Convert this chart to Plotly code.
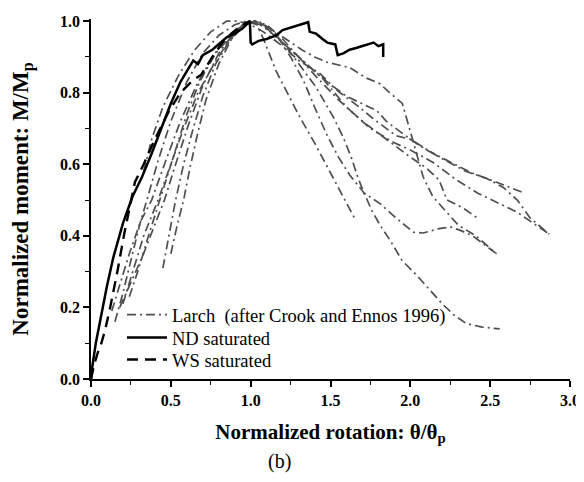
import plotly.graph_objects as go

# ---- data ----
nd_x = [0, 0.01, 0.03, 0.06, 0.1, 0.14, 0.2, 0.26, 0.32, 0.38, 0.45, 0.5, 0.56, 0.6, 0.64, 0.67, 0.7, 0.76, 0.8, 0.85,
        0.9, 0.95, 0.995, 1.0, 1.01, 1.05, 1.1, 1.16, 1.2, 1.26, 1.31, 1.36, 1.37, 1.41, 1.45, 1.48, 1.53, 1.545, 1.58,
        1.62, 1.66, 1.70, 1.74, 1.77, 1.80, 1.83, 1.83]
nd_y = [0, 0.04, 0.1, 0.17, 0.26, 0.34, 0.435, 0.51, 0.565, 0.63, 0.715, 0.77, 0.83, 0.86, 0.89, 0.88, 0.905, 0.92,
        0.935, 0.955, 0.965, 0.98, 1.0, 0.94, 0.935, 0.945, 0.95, 0.96, 0.975, 0.983, 0.99, 0.997, 0.97, 0.965, 0.95,
        0.94, 0.935, 0.905, 0.91, 0.92, 0.925, 0.93, 0.935, 0.94, 0.93, 0.935, 0.9]

ws_x = [0, 0.02, 0.04, 0.065, 0.09, 0.12, 0.165, 0.21, 0.275, 0.33, 0.4, 0.49, 0.56, 0.64, 0.69, 0.76, 0.84, 0.92,
        0.97, 1.0]
ws_y = [0, 0.04, 0.07, 0.1, 0.14, 0.2, 0.3, 0.41, 0.55, 0.6, 0.67, 0.75, 0.8, 0.835, 0.85, 0.9, 0.95, 0.98, 0.995, 1.0]

larch_x = [
    [0.33, 0.38, 0.45, 0.55, 0.65, 0.75, 0.85, 0.92, 1.0, 1.08, 1.2, 1.3, 1.43, 1.51, 1.60, 1.70, 1.79, 1.85, 1.91,
     2.0, 2.10, 2.23, 2.39, 2.54, 2.71],
    [0.15, 0.2, 0.26, 0.31, 0.35, 0.42, 0.5, 0.6, 0.7, 0.8, 0.9, 0.97, 1.04, 1.08, 1.16, 1.23, 1.31, 1.40, 1.47,
     1.53, 1.59, 1.65],
    [0.13, 0.18, 0.24, 0.31, 0.38, 0.46, 0.56, 0.66, 0.76, 0.86, 0.95, 1.05, 1.15, 1.25, 1.33, 1.40, 1.48, 1.55,
     1.62, 1.71, 1.81, 1.91, 2.02, 2.08, 2.18, 2.25, 2.31, 2.39, 2.45, 2.54],
    [0.2, 0.26, 0.33, 0.42, 0.5, 0.58, 0.67, 0.77, 0.87, 0.96, 1.03, 1.12, 1.22, 1.32, 1.41, 1.52, 1.58, 1.63, 1.67,
     1.71, 1.76, 1.81, 1.87, 1.95, 2.04, 2.14, 2.2, 2.27, 2.35, 2.45, 2.56],
    [0.24, 0.3, 0.36, 0.41, 0.46, 0.52, 0.6, 0.68, 0.78, 0.88, 0.96, 1.03, 1.12, 1.22, 1.32, 1.40, 1.48, 1.62, 1.73,
     1.81, 1.87, 1.95, 1.98, 2.02, 2.08, 2.14, 2.22, 2.30, 2.41, 2.54],
    [0.5, 0.54, 0.58, 0.62, 0.67, 0.72, 0.8, 0.88, 0.96, 1.03, 1.1, 1.2, 1.3, 1.4, 1.56, 1.68, 1.76, 1.85, 1.91, 2.0,
     2.06, 2.18, 2.35, 2.48, 2.58, 2.67, 2.75, 2.87],
    [0.45, 0.49, 0.53, 0.58, 0.64, 0.7, 0.78, 0.86, 0.94, 1.02, 1.1, 1.2, 1.3, 1.45, 1.6, 1.75, 1.9, 2.0, 2.14, 2.29,
     2.42, 2.54, 2.67, 2.77, 2.87],
    [0.18, 0.25, 0.32, 0.39, 0.46, 0.53, 0.61, 0.7, 0.8, 0.9, 0.98, 1.06, 1.15, 1.3, 1.4, 1.55, 1.7, 1.85, 2.0, 2.1,
     2.18, 2.23, 2.33, 2.42],
]
larch_y = [
    [0.58, 0.67, 0.76, 0.85, 0.92, 0.97, 1.0, 1.0, 0.99, 0.97, 0.93, 0.89, 0.855, 0.82, 0.79, 0.77, 0.75, 0.72, 0.70,
     0.67, 0.64, 0.61, 0.575, 0.55, 0.52],
    [0.16, 0.24, 0.35, 0.44, 0.5, 0.61, 0.72, 0.83, 0.91, 0.96, 0.99, 1.0, 0.99, 0.95, 0.86, 0.80, 0.73, 0.66, 0.60,
     0.55, 0.50, 0.45],
    [0.19, 0.26, 0.35, 0.44, 0.5, 0.6, 0.72, 0.82, 0.9, 0.96, 0.99, 1.0, 0.97, 0.9, 0.835, 0.76, 0.68, 0.62, 0.57,
     0.52, 0.49, 0.45, 0.41, 0.408, 0.42, 0.425, 0.416, 0.40, 0.38, 0.35],
    [0.21, 0.3, 0.4, 0.5, 0.6, 0.7, 0.8, 0.88, 0.95, 0.99, 1.0, 0.98, 0.93, 0.87, 0.815, 0.73, 0.675, 0.62, 0.565,
     0.52, 0.47, 0.43, 0.39, 0.33, 0.29, 0.24, 0.21, 0.18, 0.155, 0.145, 0.14],
    [0.23, 0.31, 0.4, 0.47, 0.54, 0.63, 0.74, 0.83, 0.91, 0.96, 0.99, 1.0, 0.98, 0.95, 0.92, 0.9, 0.885, 0.87, 0.84,
     0.825, 0.80, 0.77, 0.72, 0.66, 0.565, 0.51, 0.47, 0.43, 0.40, 0.35],
    [0.35, 0.43, 0.5, 0.59, 0.69, 0.78, 0.88, 0.95, 0.99, 1.0, 0.98, 0.94, 0.9, 0.86, 0.80, 0.76, 0.73, 0.70, 0.68,
     0.67, 0.654, 0.62, 0.58, 0.56, 0.536, 0.50, 0.45, 0.405],
    [0.31, 0.4, 0.5, 0.6, 0.7, 0.79, 0.88, 0.94, 0.98, 1.0, 0.99, 0.95, 0.9, 0.84, 0.76, 0.70, 0.66, 0.64, 0.606,
     0.556, 0.52, 0.494, 0.466, 0.435, 0.405],
    [0.2, 0.27, 0.34, 0.42, 0.5, 0.6, 0.71, 0.82, 0.91, 0.97, 1.0, 0.99, 0.96, 0.9, 0.85, 0.78, 0.72, 0.67, 0.62,
     0.59, 0.556, 0.50, 0.478, 0.45],
]

x_ticks = [0.0, 0.5, 1.0, 1.5, 2.0, 2.5, 3.0]
y_ticks = [0.0, 0.2, 0.4, 0.6, 0.8, 1.0]

FONT = "Liberation Serif"
GREY = "#4f4f4f"

fig = go.Figure()

for i, (lx, ly) in enumerate(zip(larch_x, larch_y)):
    fig.add_trace(go.Scatter(
        x=lx, y=ly, mode="lines",
        line=dict(color=GREY, width=1.7, dash="9px,4px,2px,4px"),
        name="Larch  (after Crook and Ennos 1996)",
        showlegend=(i == 0), legendgroup="larch", legend="legend",
    ))

fig.add_trace(go.Scatter(
    x=ws_x, y=ws_y, mode="lines",
    line=dict(color="black", width=2.4, dash="11px,7px"),
    name="WS saturated", legend="legend3",
))
fig.add_trace(go.Scatter(
    x=nd_x, y=nd_y, mode="lines",
    line=dict(color="black", width=2.5),
    name="ND saturated", legend="legend2",
))

# the page body has an 8px default margin; figure coordinates = page coordinates - 8
OFF = 8
W, H = 584 - OFF, 482 - OFF
ML, MR, MT, MB = 91 - OFF, 14, 19 - OFF, 103
pw, ph = W - ML - MR, H - MT - MB


def px_x(p):
    return (p - OFF - ML) / pw


def px_y(p):
    return (H - MB - (p - OFF)) / ph


def leg(row_center):
    return dict(
        x=px_x(122), y=px_y(row_center - 20), xanchor="left", yanchor="top",
        bgcolor="rgba(0,0,0,0)", font=dict(size=18.5, family=FONT, color="black"),
        tracegroupgap=0, itemwidth=40,
    )


fig.update_layout(
    width=W, height=H,
    margin=dict(l=ML, r=MR, t=MT, b=MB, autoexpand=False),
    paper_bgcolor="white", plot_bgcolor="white",
    font=dict(family=FONT, color="black"),
    showlegend=True,
    legend=leg(316),
    legend2=leg(339),
    legend3=leg(361),
    xaxis=dict(
        range=[0, 3.0], showgrid=False, zeroline=False, automargin=False,
        showline=True, linecolor="black", linewidth=1.5,
        ticks="outside", ticklen=6, tickwidth=1.5, tickcolor="black",
        tickvals=x_ticks, ticktext=[f"{v:.1f}" for v in x_ticks],
        tickfont=dict(size=16, family=FONT, weight="bold"),
        minor=dict(ticks="outside", ticklen=4, tickwidth=1.2, tickcolor="black", dtick=0.25, tick0=0),
        title=dict(text="<b>Normalized rotation: θ/θ<sub>p</sub></b>", font=dict(size=21, family=FONT), standoff=16),
    ),
    yaxis=dict(
        range=[0, 1.006], showgrid=False, zeroline=False, automargin=False,
        showline=True, linecolor="black", linewidth=1.5,
        ticks="outside", ticklen=6, tickwidth=1.5, tickcolor="black",
        tickvals=y_ticks, ticktext=[f"{v:.1f}" for v in y_ticks],
        tickfont=dict(size=16, family=FONT, weight="bold"),
        minor=dict(ticks="outside", ticklen=4, tickwidth=1.2, tickcolor="black", dtick=0.1, tick0=0),
        title=dict(text="<b>Normalized moment: M/M<sub>p</sub></b>", font=dict(size=23, family=FONT), standoff=26),
    ),
    annotations=[dict(text="(b)", x=px_x(279), y=px_y(461), xref="paper", yref="paper",
                      showarrow=False, xanchor="center", yanchor="middle",
                      font=dict(size=20, family=FONT, color="black"))],
)

fig.write_html("out.html")
